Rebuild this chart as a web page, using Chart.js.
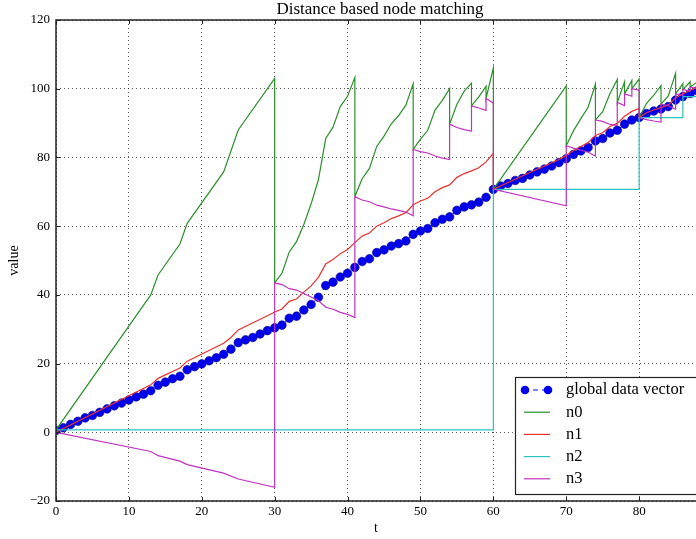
<!DOCTYPE html>
<html>
<head>
<meta charset="utf-8">
<title>Distance based node matching</title>
<script src="https://cdn.jsdelivr.net/npm/chart.js@4.4.1/dist/chart.umd.min.js"></script>
<style>
    html, body { margin: 0; padding: 0; background: #fff; }
    #wrap { width: 696px; height: 539px; }
</style>
</head>
<body>
<div id="wrap"><canvas id="nodeChart" width="696" height="539"></canvas></div>
<script>
// global data vector, one value per time step t = 0..88
const globalValues = [
    0.5, 1.3, 2.3, 3.2, 4.2, 4.9, 5.8, 6.8, 7.7, 8.5,
    9.4, 10.3, 11.1, 12.1, 13.7, 14.6, 15.6, 16.3, 18.2, 19.1,
    19.9, 20.8, 21.7, 22.7, 24.2, 26.1, 26.9, 27.6, 28.6, 29.6,
    30.4, 31.2, 33.2, 33.8, 35.6, 37.2, 39.3, 42.7, 43.7, 45.2,
    46.3, 48.0, 49.7, 50.5, 52.3, 53.1, 54.2, 54.9, 55.7, 57.6,
    58.6, 59.3, 61.0, 62.0, 62.7, 64.6, 65.6, 66.2, 67.0, 68.4,
    70.7, 71.7, 72.4, 73.3, 73.9, 74.9, 75.8, 76.6, 77.5, 78.5,
    79.6, 80.9, 81.9, 82.9, 84.8, 85.5, 87.1, 87.9, 89.7, 90.9,
    91.6, 92.8, 93.5, 94.1, 94.8, 96.7, 97.7, 98.6, 99.4
];

// node estimates as [t, value]; a repeated t is a jump at that step
const n0Points = [
    [0, 0.7], [13, 40], [14, 45.8], [17, 54.8], [18, 60.8], [23, 75.8], [25, 88], [30, 103],
    [30, 43.5], [31, 46.3], [32, 52.5], [33, 55.5], [34, 60.5], [35, 66.5], [36, 73.5],
    [37, 85.5], [38, 88.8], [39, 94.8], [40, 97.8], [41, 103.3],
    [41, 68.6], [42, 73.8], [43, 76.8], [44, 83.2], [45, 86.2], [46, 89.8], [47, 92.2], [48, 95.2], [49, 101.4],
    [49, 82.3], [50, 85.3], [51, 87.9], [52, 93.8], [53, 96.6], [54, 100.0],
    [54, 89.7], [55, 95.5], [56, 99.3], [57, 101.6],
    [57, 95.0], [58, 97.6], [59, 100.7],
    [59, 97.2], [60, 106.1],
    [60, 70.7], [70, 100.8],
    [70, 83.4], [71, 87.8], [72, 91.3], [73, 94.6], [74, 101.3],
    [74, 90.9], [75, 93.3], [76, 98.6], [77, 102.7],
    [77, 96.0], [78, 102.0],
    [78, 98.5], [79, 102.4],
    [79, 100.0], [80, 102.8],
    [80, 91.6], [81, 95.7], [82, 98.1], [83, 100.9],
    [83, 95.5], [84, 97.9], [85, 104.5],
    [85, 98.5], [86, 101.5],
    [86, 99.8], [87, 102.0],
    [87, 100.5], [88, 102.0]
];

const n1Points = [
    [0, 0], [13, 13.8], [14, 15.7], [17, 18.7], [18, 20.7], [23, 25.9], [24, 27.6], [25, 29.8],
    [29, 33.9], [30, 35.0], [31, 35.9], [32, 38.1], [33, 38.8], [34, 40.8], [35, 42.6], [36, 45.1],
    [37, 49.0], [38, 50.3], [39, 52.0], [40, 53.2], [41, 55.2], [42, 57.1], [43, 58.0], [44, 60.0],
    [45, 61.0], [46, 62.2], [47, 63.0], [48, 63.9], [49, 66.2], [50, 67.3], [51, 68.1], [52, 70.0],
    [53, 71.2], [54, 72.0], [55, 74.2], [56, 75.3], [57, 76.1], [58, 77.0], [59, 78.7], [60, 81.2],
    [60, 70.7], [65, 75.6], [69, 79.4], [70, 80.6], [71, 82.0], [72, 83.2], [73, 84.3], [74, 86.4],
    [75, 87.2], [76, 89.0], [77, 89.9], [78, 92.0], [79, 93.4], [80, 94.3],
    [80, 91.6], [81, 93.0], [82, 93.8], [83, 94.5], [84, 95.3], [85, 97.4], [86, 98.5], [87, 99.5], [88, 100.4]
];

const n2Points = [
    [0, 0.7], [60, 0.7], [60, 70.7], [80, 70.7], [80, 91.6], [86, 91.6], [86, 97.7], [88, 97.7]
];

const n3Points = [
    [0, 0], [13, -5.6], [14, -6.8], [17, -8.4], [18, -9.4], [23, -11.9], [25, -13.6], [30, -16.0],
    [30, 43.5], [31, 43.0], [32, 41.8], [33, 41.4], [34, 40.4], [35, 39.4], [36, 38.3],
    [37, 36.4], [38, 35.8], [39, 34.9], [40, 34.3], [41, 33.4],
    [41, 68.6], [42, 67.6], [43, 67.1], [44, 66.1], [45, 65.6], [46, 65.0], [47, 64.6], [48, 64.1], [49, 63.0],
    [49, 82.3], [50, 81.7], [51, 81.3], [52, 80.4], [53, 79.8], [54, 79.4],
    [54, 89.7], [55, 88.7], [56, 88.1], [57, 87.7],
    [57, 95.0], [58, 94.4], [59, 93.7],
    [59, 97.2], [60, 95.8],
    [60, 70.7], [70, 65.9],
    [70, 83.4], [71, 82.7], [72, 82.1], [73, 81.5], [74, 80.4],
    [74, 90.9], [75, 90.5], [76, 89.6], [77, 89.3],
    [77, 96.0], [78, 95.1],
    [78, 98.5], [79, 97.8],
    [79, 100.0], [80, 99.6],
    [80, 91.6], [81, 91.0], [82, 90.6], [83, 90.3],
    [83, 95.5], [84, 95.1], [85, 94.0],
    [85, 98.5], [86, 98.0],
    [86, 99.8], [87, 99.3],
    [87, 100.5], [88, 100.0]
];

const xTicks = [0, 10, 20, 30, 40, 50, 60, 70, 80];
const yTicks = [-20, 0, 20, 40, 60, 80, 100, 120];

const SERIF = '"Liberation Serif", "DejaVu Serif", serif';

function toXY(points) {
    return points.map(p => ({ x: p[0], y: p[1] }));
}

function nodeDataset(label, points, color, order) {
    return {
        label: label,
        data: toXY(points),
        borderColor: color,
        backgroundColor: color,
        borderWidth: 1.2,
        pointRadius: 0,
        pointHoverRadius: 0,
        tension: 0,
        order: order
    };
}

// frame, inward ticks, title and legend drawn like the matplotlib original
const decorPlugin = {
    id: 'decor',
    afterDatasetsDraw(chart) {
        const { ctx, chartArea: a, scales: { x, y } } = chart;
        ctx.save();
        ctx.strokeStyle = '#222';
        ctx.lineWidth = 1.5;
        ctx.beginPath();
        ctx.moveTo(a.right + 2, a.top);
        ctx.lineTo(a.left, a.top);
        ctx.lineTo(a.left, a.bottom);
        ctx.lineTo(a.right + 2, a.bottom);
        ctx.stroke();

        ctx.lineWidth = 1;
        ctx.beginPath();
        xTicks.forEach(v => {
            const px = Math.round(x.getPixelForValue(v)) + 0.5;
            ctx.moveTo(px, a.bottom); ctx.lineTo(px, a.bottom - 4);
            ctx.moveTo(px, a.top); ctx.lineTo(px, a.top + 4);
        });
        yTicks.forEach(v => {
            const py = Math.round(y.getPixelForValue(v)) + 0.5;
            ctx.moveTo(a.left, py); ctx.lineTo(a.left + 4, py);
        });
        ctx.stroke();
        ctx.restore();
    },
    afterDraw(chart) {
        const { ctx } = chart;
        ctx.save();
        ctx.fillStyle = '#000';
        ctx.font = '17px ' + SERIF;
        ctx.textAlign = 'center';
        ctx.textBaseline = 'middle';
        ctx.fillText('Distance based node matching', 380, 10);

        // legend box in the lower right corner
        const boxL = 515, boxT = 377, boxR = 704, boxB = 494;
        ctx.fillStyle = '#fff';
        ctx.fillRect(boxL, boxT, boxR - boxL, boxB - boxT);
        ctx.strokeStyle = '#222';
        ctx.lineWidth = 1.2;
        ctx.strokeRect(boxL + 0.5, boxT + 0.5, boxR - boxL, boxB - boxT);

        ctx.font = '16.5px ' + SERIF;
        ctx.textAlign = 'left';
        chart.data.datasets.forEach((ds, i) => {
            const yy = 390 + i * 22.2;
            ctx.strokeStyle = ds.borderColor;
            ctx.lineWidth = ds.borderWidth;
            ctx.setLineDash(ds.borderDash || []);
            ctx.beginPath();
            ctx.moveTo(524, yy);
            ctx.lineTo(550, yy);
            ctx.stroke();
            ctx.setLineDash([]);
            if (ds.pointRadius > 0) {
                ctx.fillStyle = ds.pointBackgroundColor;
                [525, 548].forEach(cx => {
                    ctx.beginPath();
                    ctx.arc(cx, yy, ds.pointRadius, 0, Math.PI * 2);
                    ctx.fill();
                });
            }
            ctx.fillStyle = '#000';
            ctx.fillText(ds.label, 566, yy);
        });
        ctx.restore();
    }
};

window.addEventListener('DOMContentLoaded', () => {
    const ctx = document.getElementById('nodeChart').getContext('2d');
    new Chart(ctx, {
        type: 'line',
        data: {
            datasets: [
                {
                    label: 'global data vector',
                    data: globalValues.map((v, t) => ({ x: t, y: v })),
                    borderColor: '#0000ff',
                    borderWidth: 1,
                    borderDash: [5, 4],
                    pointRadius: 4.3,
                    pointHoverRadius: 4.3,
                    pointBackgroundColor: '#0000ee',
                    pointBorderColor: '#00008b',
                    pointBorderWidth: 0.6,
                    tension: 0,
                    order: 5
                },
                nodeDataset('n0', n0Points, '#2a912a', 4),
                nodeDataset('n1', n1Points, '#e8322f', 3),
                nodeDataset('n2', n2Points, '#2cc2c2', 2),
                nodeDataset('n3', n3Points, '#c032c0', 1)
            ]
        },
        options: {
            responsive: false,
            devicePixelRatio: 1,
            animation: false,
            layout: { autoPadding: false, padding: { top: 20, right: 0, bottom: 0, left: 0 } },
            plugins: {
                legend: { display: false },
                title: { display: false },
                tooltip: { enabled: false }
            },
            scales: {
                x: {
                    type: 'linear',
                    min: 0,
                    max: 87.8,
                    afterBuildTicks: s => { s.ticks = xTicks.map(v => ({ value: v })); },
                    afterFit: s => { s.height = 38; },
                    ticks: {
                        color: '#000',
                        padding: 3,
                        maxRotation: 0,
                        font: { family: SERIF, size: 13 }
                    },
                    grid: { color: 'rgba(0,0,0,0.65)', lineWidth: 1, drawTicks: false },
                    border: { display: false, dash: [1, 3] },
                    title: {
                        display: true,
                        text: 't',
                        color: '#000',
                        font: { family: SERIF, size: 14 },
                        padding: { top: 0, bottom: 2 }
                    }
                },
                y: {
                    type: 'linear',
                    min: -20,
                    max: 120,
                    afterBuildTicks: s => { s.ticks = yTicks.map(v => ({ value: v })); },
                    afterFit: s => { s.width = 56; },
                    ticks: {
                        color: '#000',
                        padding: 6,
                        font: { family: SERIF, size: 13 },
                        callback: v => (v < 0 ? '\u2212' + Math.abs(v) : String(v))
                    },
                    grid: { color: 'rgba(0,0,0,0.65)', lineWidth: 1, drawTicks: false },
                    border: { display: false, dash: [1, 3] },
                    title: {
                        display: true,
                        text: 'value',
                        color: '#000',
                        font: { family: SERIF, size: 14 },
                        padding: { top: 6, bottom: 0 }
                    }
                }
            }
        },
        plugins: [decorPlugin]
    });
});
</script>
</body>
</html>
